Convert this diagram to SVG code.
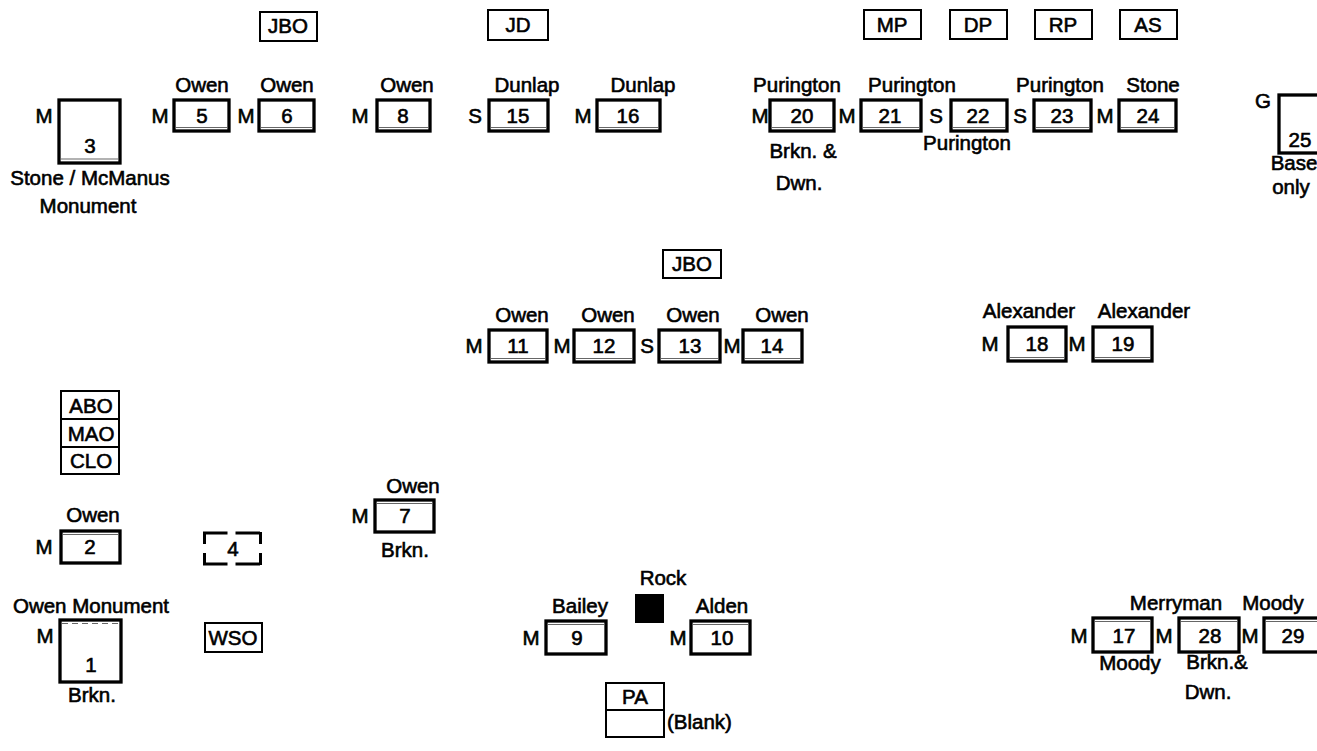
<svg xmlns="http://www.w3.org/2000/svg" width="1317" height="751" viewBox="0 0 1317 751">
<style>
.t{font-family:"Liberation Sans",Arial,sans-serif;font-size:20.5px;fill:#000;stroke:#000;stroke-width:0.6}
.c{text-anchor:middle}
.box{fill:#fff;stroke:#000;stroke-width:3.3}
.lbl{fill:#fff;stroke:#000;stroke-width:2}
.sh{fill:none;stroke:#666;stroke-width:1.2}
.dh{fill:none;stroke:#000;stroke-width:3;stroke-dasharray:24.5 8}
.dv{fill:none;stroke:#000;stroke-width:3;stroke-dasharray:12 9}
</style>
<rect width="1317" height="751" fill="#fff"/>
<g id="connectors"/>

<!-- top label boxes -->
<g id="jbo1"><rect class="lbl" x="260" y="12" width="57" height="29"/><text class="t c" x="288" y="33">JBO</text></g>
<g id="jd"><rect class="lbl" x="488" y="10" width="60" height="30"/><text class="t c" x="518" y="32">JD</text></g>
<g id="mp"><rect class="lbl" x="864" y="10" width="57" height="29"/><text class="t c" x="892" y="32">MP</text></g>
<g id="dp"><rect class="lbl" x="950" y="10" width="57" height="29"/><text class="t c" x="978" y="32">DP</text></g>
<g id="rp"><rect class="lbl" x="1035" y="10" width="57" height="29"/><text class="t c" x="1063" y="32">RP</text></g>
<g id="as"><rect class="lbl" x="1120" y="10" width="57" height="29"/><text class="t c" x="1148" y="32">AS</text></g>

<!-- row 1 -->
<g id="n3"><text class="t c" x="44" y="123">M</text><rect class="box" x="59" y="100" width="61" height="63"/><line class="sh" x1="61" y1="159" x2="118" y2="159"/><text class="t c" x="90" y="153">3</text><text class="t c" x="90" y="185">Stone / McManus</text><text class="t c" x="88" y="213">Monument</text></g>
<g id="n5"><text class="t c" x="202" y="92">Owen</text><text class="t c" x="160" y="123">M</text><rect class="box" x="174" y="100" width="55" height="31"/><line class="sh" x1="176" y1="127.5" x2="227" y2="127.5"/><text class="t c" x="202" y="123">5</text></g>
<g id="n6"><text class="t c" x="287" y="92">Owen</text><text class="t c" x="246" y="123">M</text><rect class="box" x="259" y="100" width="55" height="31"/><line class="sh" x1="261" y1="127.5" x2="312" y2="127.5"/><text class="t c" x="287" y="123">6</text></g>
<g id="n8"><text class="t c" x="407" y="92">Owen</text><text class="t c" x="360" y="123">M</text><rect class="box" x="377" y="100" width="53" height="31"/><line class="sh" x1="379" y1="127.5" x2="428" y2="127.5"/><text class="t c" x="403" y="123">8</text></g>
<g id="n15"><text class="t c" x="527" y="92">Dunlap</text><text class="t c" x="475" y="123">S</text><rect class="box" x="489" y="100" width="59" height="31"/><line class="sh" x1="491" y1="127.5" x2="546" y2="127.5"/><text class="t c" x="518" y="123">15</text></g>
<g id="n16"><text class="t c" x="643" y="92">Dunlap</text><text class="t c" x="583" y="123">M</text><rect class="box" x="597" y="100" width="63" height="31"/><line class="sh" x1="599" y1="127.5" x2="658" y2="127.5"/><text class="t c" x="628" y="123">16</text></g>
<g id="n20"><text class="t c" x="797" y="92">Purington</text><text class="t c" x="760" y="123">M</text><rect class="box" x="770" y="100" width="64" height="31"/><line class="sh" x1="772" y1="127.5" x2="832" y2="127.5"/><text class="t c" x="802" y="123">20</text><text class="t c" x="803" y="158">Brkn. &amp;</text><text class="t c" x="799" y="190">Dwn.</text></g>
<g id="n21"><text class="t c" x="912" y="92">Purington</text><text class="t c" x="847" y="123">M</text><rect class="box" x="861" y="100" width="60" height="31"/><line class="sh" x1="863" y1="127.5" x2="919" y2="127.5"/><text class="t c" x="890" y="123">21</text></g>
<g id="n22"><text class="t c" x="936" y="123">S</text><rect class="box" x="951" y="100" width="56" height="31"/><line class="sh" x1="953" y1="127.5" x2="1005" y2="127.5"/><text class="t c" x="978" y="123">22</text><text class="t c" x="967" y="150">Purington</text></g>
<g id="n23"><text class="t c" x="1060" y="92">Purington</text><text class="t c" x="1020" y="123">S</text><rect class="box" x="1034" y="100" width="57" height="31"/><line class="sh" x1="1036" y1="127.5" x2="1089" y2="127.5"/><text class="t c" x="1062" y="123">23</text></g>
<g id="n24"><text class="t c" x="1153" y="92">Stone</text><text class="t c" x="1105" y="123">M</text><rect class="box" x="1119" y="100" width="57" height="31"/><line class="sh" x1="1121" y1="127.5" x2="1174" y2="127.5"/><text class="t c" x="1148" y="123">24</text></g>
<g id="n25"><text class="t c" x="1263" y="108">G</text><rect class="box" x="1279" y="95" width="60" height="58"/><text class="t c" x="1300" y="147">25</text><text class="t c" x="1294" y="170">Base</text><text class="t c" x="1291" y="194">only</text></g>

<!-- row 2 -->
<g id="jbo2"><rect class="lbl" x="663" y="250" width="58" height="28"/><text class="t c" x="692" y="271">JBO</text></g>
<g id="n11"><text class="t c" x="522" y="322">Owen</text><text class="t c" x="474" y="353">M</text><rect class="box" x="489" y="330" width="58" height="32"/><line class="sh" x1="491" y1="358.5" x2="545" y2="358.5"/><text class="t c" x="518" y="353">11</text></g>
<g id="n12"><text class="t c" x="608" y="322">Owen</text><text class="t c" x="562" y="353">M</text><rect class="box" x="574" y="330" width="60" height="32"/><line class="sh" x1="576" y1="358.5" x2="632" y2="358.5"/><text class="t c" x="604" y="353">12</text></g>
<g id="n13"><text class="t c" x="693" y="322">Owen</text><text class="t c" x="647" y="353">S</text><rect class="box" x="659" y="330" width="61" height="32"/><line class="sh" x1="661" y1="358.5" x2="718" y2="358.5"/><text class="t c" x="690" y="353">13</text></g>
<g id="n14"><text class="t c" x="782" y="322">Owen</text><text class="t c" x="732" y="353">M</text><rect class="box" x="743" y="330" width="59" height="32"/><line class="sh" x1="745" y1="358.5" x2="800" y2="358.5"/><text class="t c" x="772" y="353">14</text></g>
<g id="n18"><text class="t c" x="1029" y="318">Alexander</text><text class="t c" x="990" y="351">M</text><rect class="box" x="1008" y="327" width="58" height="34"/><line class="sh" x1="1010" y1="357.5" x2="1064" y2="357.5"/><text class="t c" x="1037" y="351">18</text></g>
<g id="n19"><text class="t c" x="1144" y="318">Alexander</text><text class="t c" x="1077" y="351">M</text><rect class="box" x="1093" y="327" width="59" height="34"/><line class="sh" x1="1095" y1="357.5" x2="1150" y2="357.5"/><text class="t c" x="1123" y="351">19</text></g>

<!-- left column -->
<g id="abo"><rect class="lbl" x="61" y="391" width="58" height="83"/><line class="lbl" x1="61" y1="419" x2="119" y2="419"/><line class="lbl" x1="61" y1="447" x2="119" y2="447"/><text class="t c" x="91" y="413">ABO</text><text class="t c" x="91" y="441">MAO</text><text class="t c" x="91" y="468">CLO</text></g>
<g id="n2"><text class="t c" x="93" y="522">Owen</text><text class="t c" x="44" y="554">M</text><rect class="box" x="61" y="531" width="59" height="32"/><line class="sh" x1="63" y1="534.5" x2="118" y2="534.5"/><text class="t c" x="90" y="554">2</text></g>
<g id="n4"><line class="dh" x1="203" y1="533" x2="262" y2="533"/><line class="dh" x1="203" y1="564" x2="262" y2="564"/><line class="dv" x1="204.5" y1="532" x2="204.5" y2="565"/><line class="dv" x1="260.5" y1="532" x2="260.5" y2="565"/><text class="t c" x="233" y="556">4</text></g>
<g id="n7"><text class="t c" x="413" y="493">Owen</text><text class="t c" x="360" y="523">M</text><rect class="box" x="375" y="500" width="59" height="32"/><line class="sh" x1="377" y1="503.5" x2="432" y2="503.5"/><text class="t c" x="405" y="523">7</text><text class="t c" x="405" y="557">Brkn.</text></g>
<g id="n1"><text class="t c" x="91" y="613">Owen Monument</text><text class="t c" x="45" y="643">M</text><rect class="box" x="60" y="620" width="61" height="62"/><line class="sh" x1="62" y1="623.5" x2="119" y2="623.5" stroke-dasharray="6 4"/><text class="t c" x="91" y="672">1</text><text class="t c" x="92" y="702">Brkn.</text></g>
<g id="wso"><rect class="lbl" x="205" y="623" width="57" height="29"/><text class="t c" x="233" y="645">WSO</text></g>

<!-- bottom middle -->
<g id="rock"><text class="t c" x="663" y="585">Rock</text><rect x="635" y="594" width="29" height="29" fill="#000"/></g>
<g id="n9"><text class="t c" x="580" y="613">Bailey</text><text class="t c" x="531" y="645">M</text><rect class="box" x="546" y="621" width="60" height="33"/><line class="sh" x1="548" y1="624.5" x2="604" y2="624.5"/><text class="t c" x="577" y="645">9</text></g>
<g id="n10"><text class="t c" x="722" y="613">Alden</text><text class="t c" x="678" y="645">M</text><rect class="box" x="691" y="621" width="59" height="33"/><line class="sh" x1="693" y1="624.5" x2="748" y2="624.5"/><text class="t c" x="722" y="645">10</text></g>
<g id="pa"><rect class="lbl" x="606" y="683" width="58" height="54"/><line class="lbl" x1="606" y1="710" x2="664" y2="710"/><text class="t c" x="635" y="704">PA</text><text class="t" x="667" y="729">(Blank)</text></g>

<!-- bottom right -->
<g id="n17"><text class="t c" x="1079" y="643">M</text><rect class="box" x="1093" y="618" width="59" height="34"/><line class="sh" x1="1095" y1="621.5" x2="1150" y2="621.5"/><text class="t c" x="1124" y="643">17</text><text class="t c" x="1130" y="670">Moody</text></g>
<g id="n28"><text class="t c" x="1176" y="610">Merryman</text><text class="t c" x="1164" y="643">M</text><rect class="box" x="1179" y="618" width="60" height="34"/><line class="sh" x1="1181" y1="621.5" x2="1237" y2="621.5"/><text class="t c" x="1210" y="643">28</text><text class="t c" x="1217" y="669">Brkn.&amp;</text><text class="t c" x="1208" y="699">Dwn.</text></g>
<g id="n29"><text class="t c" x="1273" y="610">Moody</text><text class="t c" x="1250" y="643">M</text><rect class="box" x="1264" y="618" width="70" height="34"/><line class="sh" x1="1266" y1="621.5" x2="1317" y2="621.5"/><text class="t c" x="1293" y="643">29</text></g>
</svg>
